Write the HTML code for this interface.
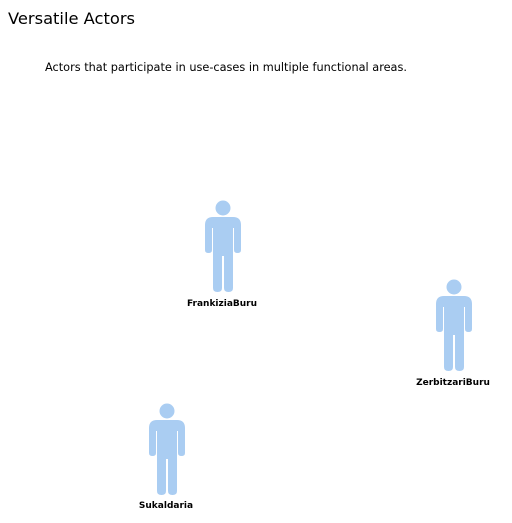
<!DOCTYPE html>
<html><head><meta charset="utf-8"><style>
body{margin:0;width:512px;height:523px;background:#fff;font-family:"DejaVu Sans","Liberation Sans",sans-serif;overflow:hidden;position:relative}
h1{position:absolute;left:8px;top:9px;margin:0;font-size:16.3px;font-weight:normal;color:#000}
p{position:absolute;left:45px;top:61px;margin:0;font-size:11.3px;color:#000}
</style></head><body>
<h1>Versatile Actors</h1>
<p>Actors that participate in use-cases in multiple functional areas.</p>
<svg width="512" height="523" style="position:absolute;left:0;top:0">
<defs>
<g id="actor" fill="#aacdf2">
<circle cx="0" cy="0" r="7.5"/>
<path d="M-18,17 Q-18,9 -10,9 L10,9 Q18,9 18,17 L18,42 Q18,45 14.5,45 Q11,45 11,42 L11,20 L10,20 L10,47 L10,80 Q10,84 5.5,84 Q1,84 1,80 L1,48 L-1,48 L-1,80 Q-1,84 -5.5,84 Q-10,84 -10,80 L-10,20 L-11,20 L-11,42 Q-11,45 -14.5,45 Q-18,45 -18,42 Z"/>
</g>
</defs>
<g>
<use href="#actor" x="223" y="208"/>
<text x="222" y="306" text-anchor="middle" font-size="9" font-weight="bold" font-family="DejaVu Sans,Liberation Sans,sans-serif">FrankiziaBuru</text>
</g>
<g>
<use href="#actor" x="454" y="287"/>
<text x="453" y="385" text-anchor="middle" font-size="9" font-weight="bold" font-family="DejaVu Sans,Liberation Sans,sans-serif">ZerbitzariBuru</text>
</g>
<g>
<use href="#actor" x="167" y="411"/>
<text x="166" y="508" text-anchor="middle" font-size="9" font-weight="bold" font-family="DejaVu Sans,Liberation Sans,sans-serif">Sukaldaria</text>
</g>
</svg>
</body></html>
